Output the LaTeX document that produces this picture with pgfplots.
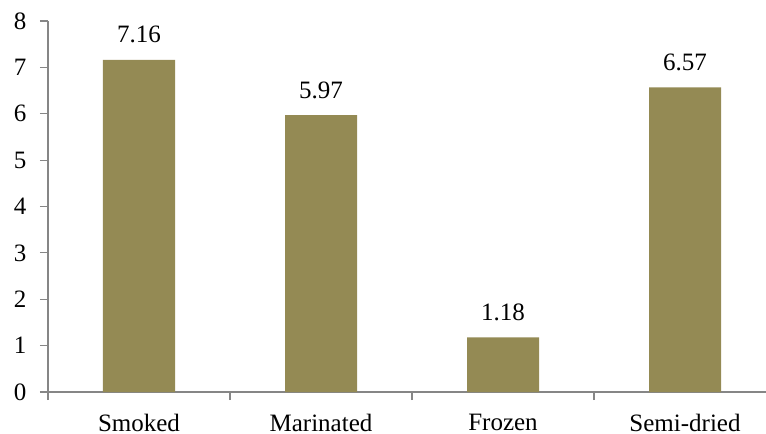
\documentclass[border=0pt]{standalone}
\usepackage{pgfplots}
\pgfplotsset{compat=1.18}
\usepackage{fontspec}
\setmainfont{Liberation Serif}
\definecolor{barcol}{HTML}{948A54}
\definecolor{axcol}{HTML}{868686}
\begin{document}
\fontsize{12.5bp}{15bp}\selectfont
\begin{tikzpicture}
\begin{axis}[
  scale only axis,
  width=359bp, height=185.5bp,
  at={(0,0)}, anchor=south west,
  xmin=-0.5, xmax=3.445,
  ymin=0, ymax=8,
  axis x line=bottom, axis y line=left,
  axis line style={axcol, line width=0.6bp, -},
  ytick={0,1,...,8},
  xtick={-0.5,0.5,1.5,2.5},
  xticklabels={},
  extra x ticks={0,1,2,3},
  extra x tick labels={Smoked,Marinated,Frozen,Semi-dried},
  extra x tick style={major tick length=0pt, tick label style={yshift=-6.8bp}},
  tick align=outside,
  major tick length=4bp,
  tick style={axcol, line width=0.6bp},
  tick label style={font=\fontsize{12.5bp}{15bp}\selectfont, text=black},
  yticklabel style={xshift=-2.5bp},
  /pgf/number format/assume math mode=true,
  ybar, bar width=36bp,
  nodes near coords,
  nodes near coords style={font=\fontsize{12.5bp}{15bp}\selectfont, text=black, yshift=4bp, /pgf/number format/fixed, /pgf/number format/precision=2, /pgf/number format/fixed zerofill},
  clip=false,
]
\addplot[fill=barcol, draw=none] coordinates {(0,7.16) (1,5.97) (2,1.18) (3,6.57)};
\end{axis}
\pgfresetboundingbox
\path[use as bounding box] (-24bp,-21bp) rectangle (359bp,196bp);
\end{tikzpicture}
\end{document}
